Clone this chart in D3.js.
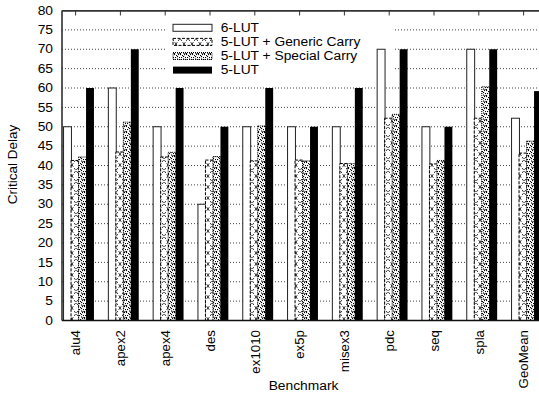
<!DOCTYPE html>
<html><head><meta charset="utf-8">
<script src="https://cdn.jsdelivr.net/npm/d3@7"></script>
<style>
html,body{margin:0;padding:0;background:#fff;}
svg{display:block;font-family:"Liberation Sans",Arial,Helvetica,sans-serif;}
</style></head>
<body><svg id="c" width="539" height="393"></svg>
<script>
const categories = ["alu4","apex2","apex4","des","ex1010","ex5p","misex3","pdc","seq","spla","GeoMean"];
const seriesNames = ["6-LUT","5-LUT + Generic Carry","5-LUT + Special Carry","5-LUT"];
const lut6 = [50,60,50,30,50,50,50,70,50,70,52.2];
const genericCarry = [41.3,43.5,42.2,41.4,41.2,41.4,40.5,52.2,40.4,52.2,43.2];
const specialCarry = [42.2,51.2,43.4,42.3,50.2,41.2,40.5,53.2,41.3,60.3,46.3];
const lut5 = [60,70,60,50,60,50,60,70,50,70,59.2];
const yTicks = d3.range(0,81,5);

(function(){
const seriesValues = [lut6, genericCarry, specialCarry, lut5];
const svg = d3.select("#c");
const pLeft = 62, pTop = 10.5, pBottom = 320.5, rightEdge = 539;
const x = d3.scaleLinear().domain([0,10]).range([75.6,523.6]);
const y = d3.scaleLinear().domain([0,80]).range([pBottom, pTop]);
const inner = d3.scaleBand().domain(d3.range(4)).range([-12.05,17.95]).padding(0);

const defs = svg.append("defs");
const pg = defs.append("pattern").attr("id","pGen").attr("patternUnits","userSpaceOnUse")
  .attr("width",8).attr("height",11);
pg.append("rect").attr("width",8).attr("height",11).attr("fill","#fff");
pg.append("path").attr("d","M0,0L8,11M8,0L0,11").attr("stroke","#000").attr("stroke-width",0.85)
  .attr("stroke-dasharray","2.2,1.6").attr("fill","none");
const ps = defs.append("pattern").attr("id","pSpec").attr("patternUnits","userSpaceOnUse")
  .attr("width",6).attr("height",6);
ps.append("rect").attr("width",6).attr("height",6).attr("fill","#fff");
[[0,0],[2,1],[4,0],[1,3],[3,2],[5,3],[0,5],[3,4.5],[4.5,5]].forEach(([a,b])=>{
  ps.append("rect").attr("x",a).attr("y",b).attr("width",1.1).attr("height",1.1).attr("fill","#000");
});

const fills = ["#fff","url(#pGen)","url(#pSpec)","#000"];
const strokes = ["#222","#000","#000","#000"];
const dashes = [null,"3,1.5","1,1",null];

svg.append("g").selectAll("line").data(yTicks.filter(v=>v>0&&v<80)).join("line")
  .attr("x1",pLeft).attr("x2",rightEdge).attr("y1",d=>y(d)).attr("y2",d=>y(d))
  .attr("stroke","#444").attr("stroke-width",1).attr("stroke-dasharray","1,2");

const legX = 166, legY = 16, legW = 229, legH = 62;
svg.append("rect").attr("x",legX).attr("y",legY).attr("width",legW).attr("height",legH).attr("fill","#fff");

const bars = svg.append("g");
seriesValues.forEach((vals,k)=>{
  bars.append("g").selectAll("rect").data(vals).join("rect")
    .attr("x",(d,i)=>x(i)+inner(k))
    .attr("width",inner.bandwidth()+0.4)
    .attr("y",d=>y(d))
    .attr("height",d=>y(0)-y(d))
    .attr("fill",fills[k])
    .attr("stroke",k===3?"none":strokes[k])
    .attr("stroke-width",1)
    .attr("stroke-dasharray",dashes[k]);
});

svg.append("line").attr("x1",pLeft).attr("x2",pLeft).attr("y1",pTop).attr("y2",pBottom)
  .attr("stroke","#222").attr("stroke-width",1.5);
svg.append("line").attr("x1",pLeft).attr("x2",rightEdge).attr("y1",pBottom).attr("y2",pBottom)
  .attr("stroke","#111").attr("stroke-width",1.5);
svg.append("line").attr("x1",pLeft).attr("x2",rightEdge).attr("y1",pTop+0.3).attr("y2",pTop+0.3)
  .attr("stroke","#333").attr("stroke-width",1.8);
svg.append("g").selectAll("line").data(categories).join("line")
  .attr("x1",(d,i)=>x(i)).attr("x2",(d,i)=>x(i)).attr("y1",pTop).attr("y2",pTop+5)
  .attr("stroke","#333").attr("stroke-width",1);

const hFont = 13.8, hScale = 0.86;
function htext(t,tx,ty,anchor){
  return svg.append("text").attr("transform",`translate(${tx},${ty}) scale(1,${hScale})`)
    .attr("text-anchor",anchor).attr("font-size",hFont).attr("fill","#000").text(t);
}
yTicks.forEach(v=>htext(String(v),53,y(v)+4.2,"end"));

svg.append("g").selectAll("text").data(categories).join("text")
  .attr("transform",(d,i)=>`translate(${x(i)+4.8},330) rotate(-90)`)
  .attr("text-anchor","end").attr("font-size",13.3).attr("fill","#000").text(d=>d);

htext("Benchmark",303.5,390,"middle");
svg.append("text").attr("transform","translate(17.3,164.5) rotate(-90)")
  .attr("text-anchor","middle").attr("font-size",13.5).attr("fill","#000").text("Critical Delay");

seriesNames.forEach((name,k)=>{
  const cy = 27.8 + k*14.1;
  svg.append("rect").attr("x",173).attr("y",cy-3.5).attr("width",39).attr("height",7)
    .attr("fill",fills[k]).attr("stroke",k===3?"none":strokes[k]).attr("stroke-width",1)
    .attr("stroke-dasharray",dashes[k]);
  htext(name,220.7,cy+4.2,"start");
});
})();
</script></body></html>
